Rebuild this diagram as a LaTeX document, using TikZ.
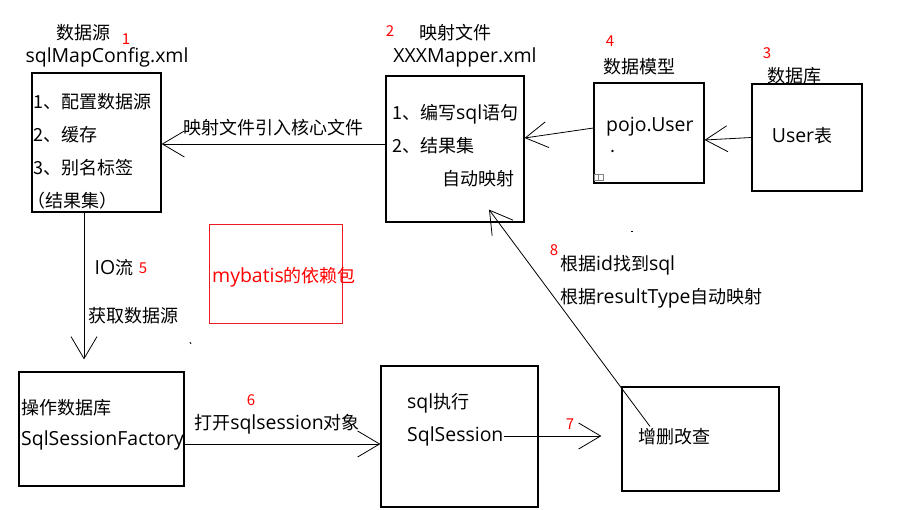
\documentclass[tikz,border=0pt]{standalone}
\usepackage{fontspec}
\usepackage{tikz}
\usetikzlibrary{arrows.meta,calc}
\newfontfamily\cjk{Noto Sans CJK SC}
\newfontfamily\lat[Scale=1.08]{Open Sans}
\definecolor{paintred}{RGB}{237,28,36}

\tikzset{
  box/.style={draw, line width=1.2pt, inner sep=0pt},
  txt/.style={font=\cjk\fontsize{18}{20}\selectfont, inner sep=0pt},
  num/.style={font=\cjk\fontsize{15}{17}\selectfont, text=red, inner sep=0pt},
  arr/.style={line width=0.8pt, -{Straight Barb[length=22pt,width=26pt,line width=0.8pt]}}
}

\begin{document}
\begin{tikzpicture}[x=1pt,y=-1pt]
			\useasboundingbox (0,0) rectangle (921,510);

			% Boxes
			\node[box, minimum width=129pt, minimum height=139pt] (cfg) at (96.5,142.5) {};
			\node[box, minimum width=138pt, minimum height=146pt] (mapper) at (455,149) {};
			\node[box, minimum width=110pt, minimum height=100pt] (pojo) at (649,133) {};
			\node[box, minimum width=110pt, minimum height=107pt] (usertbl) at (807,137.5) {};
			\node[draw=paintred, line width=1pt, minimum width=133pt, minimum height=99pt] (deps) at (275.5,274.5) {};
			\node[box, minimum width=165pt, minimum height=114pt] (factory) at (101.5,429) {};
			\node[box, minimum width=157pt, minimum height=141pt] (session) at (459.5,436.5) {};
			\node[box, minimum width=157pt, minimum height=104pt] (crud) at (700.5,439) {};

			% Core config
			\node[txt] (cfgtitle) at (83,33) {数据源};
			\node[num] (n1) at (126,39) {1};
			\node[txt] (cfgfile) at (107,57) {\lat sqlMapConfig.xml};
			\node[txt, anchor=west] (cfg1) at (33,102) {1、配置数据源};
			\node[txt, anchor=west] (cfg2) at (33,135) {2、缓存};
			\node[txt, anchor=west] (cfg3) at (33,168) {3、别名标签};
			\node[txt, anchor=west] (cfg4) at (27,201) {（结果集）};

			% Mapper file
			\node[num] (n2) at (390,31) {2};
			\node[txt] (maptitle) at (455,33) {映射文件};
			\node[txt] (mapfile) at (465,57) {\lat XXXMapper.xml};
			\node[txt, anchor=west] (map1) at (392,114) {1、编写{\lat sql}语句};
			\node[txt, anchor=west] (map2) at (392,146) {2、结果集};
			\node[txt, anchor=west] (map3) at (442,179) {自动映射};

			% Model and table
			\node[num] (n4) at (610,41) {4};
			\node[txt] (pojotitle) at (639,67) {数据模型};
			\node[txt, anchor=west] (pojoname) at (606,127) {\lat pojo.User};
			\node[txt] (pojodot) at (613,151) {.};
			\draw[gray, line width=0.8pt] (594,174) rectangle (598.5,180) (598.5,174) rectangle (603,180);
			\node[num] (n3) at (767,53) {3};
			\node[txt] (dbtitle) at (794,76) {数据库};
			\node[txt] (tblname) at (802,136) {{\lat User}表};

			% Dependency jar
			\node[txt, text=red] (depsname) at (284,277) {{\lat mybatis}的依赖包};

			% Factory, session, crud
			\node[txt, anchor=west] (fac1) at (21,408) {操作数据库};
			\node[txt, anchor=west] (fac2) at (21,440) {\lat SqlSessionFactory};
			\node[txt, anchor=west] (ses1) at (407,403) {{\lat sql}执行};
			\node[txt, anchor=west] (ses2) at (407,436) {\lat SqlSession};
			\node[txt, anchor=west] (crudtxt) at (638,437) {增删改查};

			% Arrows
			\draw[arr] ([yshift=5pt]mapper.west) -- ([yshift=-1.5pt]cfg.east)
				node[txt, midway, above=8pt] (lblref) {映射文件引入核心文件};
			\draw[arr] ([yshift=5pt]pojo.west) -- ([yshift=11pt]mapper.east);
			\draw[arr] (usertbl.west) -- ([yshift=-7pt]pojo.east);
			\draw[arr, shorten >=12pt] ([xshift=-12.5pt]cfg.south) -- ([xshift=-12.5pt]cfg.south |- factory.north);
			\node[txt] (lblio) at (114,268) {{\lat IO}流};
			\node[num] (n5) at (143,268) {5};
			\node[txt] (lblget) at (133,316) {获取数据源};
			\draw[arr] ([yshift=-15pt]factory.east) -- ([yshift=-15pt]factory.east -| session.west);
			\node[num] (n6) at (251,400) {6};
			\node[txt] (lblopen) at (277,424) {打开{\lat sqlsession}对象};
			\draw[arr, shorten >=20pt] (ses2.east) -- (ses2.east -| crud.west);
			\node[num] (n7) at (570,424) {7};
			\draw[arr] ([xshift=12pt,yshift=2pt]crudtxt.north west) -- ([xshift=34pt,yshift=13pt]mapper.south);
			\node[num] (n8) at (554,250) {8};
			\node[txt, anchor=west] (lblid) at (560,265) {根据{\lat id}找到{\lat sql}};
			\node[txt, anchor=west] (lbltype) at (560,298) {根据{\lat resultType}自动映射};

			% stray marks
			\draw[line width=0.8pt] (190,342) -- (191,344);
			\draw[line width=0.8pt] (631,231) -- (633,231);
		\end{tikzpicture}
\end{document}
